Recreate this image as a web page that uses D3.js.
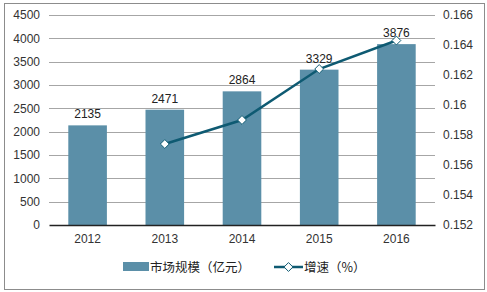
<!DOCTYPE html>
<html>
<head>
<meta charset="utf-8">
<script src="https://cdnjs.cloudflare.com/ajax/libs/d3/7.8.5/d3.min.js"></script>
<style>
  body { margin: 0; background: #fff; }
  text { font-family: "Liberation Sans", Arial, sans-serif; }
</style>
</head>
<body>
<div id="chart"></div>
<script>
// data
var years = ['2012', '2013', '2014', '2015', '2016'];
var marketSize = [2135, 2471, 2864, 3329, 3876];
var growthYears = ['2013', '2014', '2015', '2016'];
var growthRate = [0.1574, 0.1590, 0.1624, 0.1643];
var leftTicks = [0, 500, 1000, 1500, 2000, 2500, 3000, 3500, 4000, 4500];
var rightTicks = [0.152, 0.154, 0.156, 0.158, 0.16, 0.162, 0.164, 0.166];

var width = 487, height = 292;
var margin = { top: 15, right: 52, bottom: 67, left: 49 };
var chartW = width - margin.left - margin.right;
var chartH = height - margin.top - margin.bottom;

var svg = d3.select('#chart').append('svg')
    .attr('width', width)
    .attr('height', height);

// outer frame
svg.append('rect')
    .attr('x', 4.5).attr('y', 3.5)
    .attr('width', 480).attr('height', 286)
    .attr('fill', 'none')
    .attr('stroke', '#8c8c8c');

var g = svg.append('g')
    .attr('transform', `translate(${margin.left}, ${margin.top})`);

var x = d3.scaleBand().domain(years).range([0, chartW]).paddingInner(0.5).paddingOuter(0.25);
var yL = d3.scaleLinear().domain([0, 4500]).range([chartH, 0]);
var yR = d3.scaleLinear().domain([0.152, 0.166]).range([chartH, 0]);

// gridlines
g.selectAll('.grid')
    .data(leftTicks.slice(1))
    .enter().append('line')
    .attr('x1', 0).attr('x2', chartW)
    .attr('y1', d => Math.round(yL(d)) + 0.5)
    .attr('y2', d => Math.round(yL(d)) + 0.5)
    .attr('stroke', '#a6a6a6');

// left axis
var leftAxis = g.append('g')
    .call(d3.axisLeft(yL).tickValues(leftTicks).tickSize(0).tickPadding(9).tickFormat(d3.format('d')));
leftAxis.select('.domain').remove();
leftAxis.selectAll('text').attr('font-size', 12).attr('fill', '#333');

// right axis
var rightAxis = g.append('g')
    .attr('transform', `translate(${chartW}, 0)`)
    .call(d3.axisRight(yR).tickValues(rightTicks).tickSize(0).tickPadding(8).tickFormat(d3.format('')));
rightAxis.select('.domain').remove();
rightAxis.selectAll('text').attr('font-size', 12).attr('fill', '#333');

// bars
g.selectAll('.bar')
    .data(marketSize)
    .enter().append('rect')
    .attr('x', (d, i) => x(years[i]))
    .attr('y', d => yL(d))
    .attr('width', x.bandwidth())
    .attr('height', d => chartH - yL(d))
    .attr('fill', '#5b8fa8');

// bottom axis
var bottomAxis = g.append('g')
    .attr('transform', `translate(0, ${chartH})`)
    .call(d3.axisBottom(x).tickSize(0).tickPadding(9));
bottomAxis.select('.domain').attr('stroke', '#222').attr('stroke-width', 1.5);
bottomAxis.selectAll('text').attr('font-size', 12).attr('fill', '#333');

// growth line
var line = d3.line()
    .x((d, i) => x(growthYears[i]) + x.bandwidth() / 2)
    .y(d => yR(d));

g.append('path')
    .datum(growthRate)
    .attr('d', line)
    .attr('fill', 'none')
    .attr('stroke', '#0e5a72')
    .attr('stroke-width', 2.5);

var diamond = d3.symbol().type(d3.symbolDiamond2).size(50);

g.selectAll('.pt')
    .data(growthRate)
    .enter().append('path')
    .attr('d', diamond)
    .attr('transform', (d, i) => `translate(${x(growthYears[i]) + x.bandwidth() / 2}, ${yR(d)})`)
    .attr('fill', '#fff')
    .attr('stroke', '#0e5a72')
    .attr('stroke-width', 1);

// value labels
g.selectAll('.lbl')
    .data(marketSize)
    .enter().append('text')
    .attr('x', (d, i) => x(years[i]) + x.bandwidth() / 2)
    .attr('y', d => yL(d) - 7)
    .attr('text-anchor', 'middle')
    .attr('font-size', 12)
    .attr('fill', '#222')
    .text(d => d);

// legend
var legend = svg.append('g').attr('transform', 'translate(0, 267)');
legend.append('rect')
    .attr('x', 123).attr('y', -5)
    .attr('width', 26).attr('height', 9)
    .attr('fill', '#5b8fa8');
legend.append('text')
    .attr('x', 150).attr('y', 4.5)
    .attr('font-size', 12.5)
    .attr('fill', '#222')
    .style('font-family', '"Noto Sans CJK SC", sans-serif')
    .text('市场规模（亿元）');
legend.append('line')
    .attr('x1', 274).attr('x2', 303)
    .attr('y1', 0).attr('y2', 0)
    .attr('stroke', '#0e5a72')
    .attr('stroke-width', 2.5);
legend.append('path')
    .attr('d', diamond)
    .attr('transform', 'translate(288.5, 0)')
    .attr('fill', '#fff')
    .attr('stroke', '#0e5a72');
legend.append('text')
    .attr('x', 304).attr('y', 4.5)
    .attr('font-size', 12.5)
    .attr('fill', '#222')
    .style('font-family', '"Noto Sans CJK SC", sans-serif')
    .text('增速（%）');
</script>
</body>
</html>
